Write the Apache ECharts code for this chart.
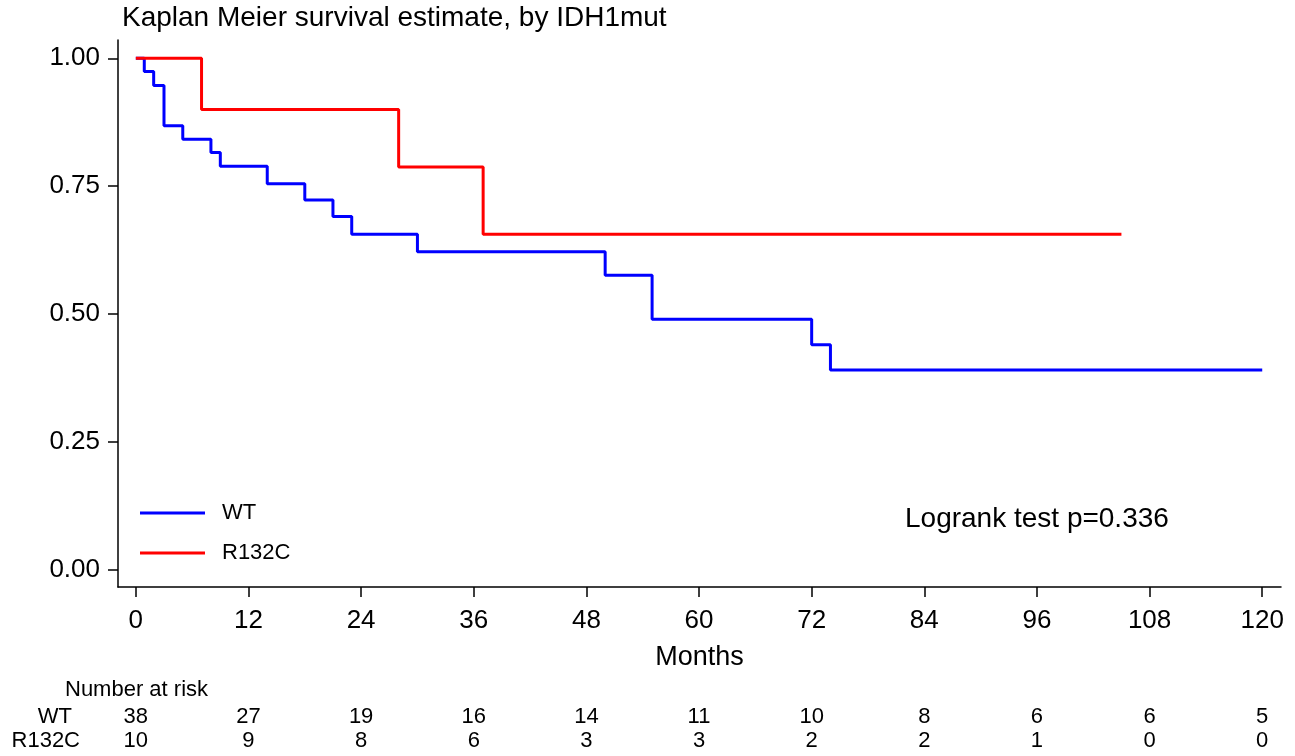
<!DOCTYPE html>
<html>
<head>
<meta charset="utf-8">
<script src="https://cdn.jsdelivr.net/npm/echarts@6/dist/echarts.min.js"></script>
<style>html,body{margin:0;padding:0;background:#fff;}#c{width:1295px;height:756px;}</style>
</head>
<body>
<div id="c"></div>
<script>
// ---- data ----
const wtTimes = [0, 0.9, 1.9, 3, 5, 8, 9, 14, 18, 21, 23, 30, 50, 55, 72, 74, 120];
const wtSurv  = [1, 0.974, 0.947, 0.868, 0.842, 0.816, 0.789, 0.755, 0.723, 0.691, 0.656, 0.622, 0.576, 0.490, 0.440, 0.391, 0.391];
const r132cTimes = [0, 7, 28, 37, 105];
const r132cSurv  = [1, 0.9, 0.7875, 0.656, 0.656];
const xTicks = [0, 12, 24, 36, 48, 60, 72, 84, 96, 108, 120];
const yTicks = [0, 0.25, 0.5, 0.75, 1];
const riskWT    = [38, 27, 19, 16, 14, 11, 10, 8, 6, 6, 5];
const riskR132C = [10, 9, 8, 6, 3, 3, 2, 2, 1, 0, 0];
const seriesNames = ['WT', 'R132C'];
const titleText = 'Kaplan Meier survival estimate, by IDH1mut';
const pText = 'Logrank test p=0.336';

const FONT = "'Liberation Sans', Arial, Helvetica, sans-serif";
const chart = echarts.init(document.getElementById('c'), null, {renderer: 'canvas'});

function riskAxis(name, values, offset, nameGap) {
  return {
    type: 'value', gridIndex: 0, position: 'bottom', offset: offset,
    min: -1.9, max: 122,
    axisLine: {show: false, onZero: false}, axisTick: {show: false}, splitLine: {show: false},
    axisLabel: {
      customValues: xTicks, margin: 0, verticalAlign: 'middle',
      fontFamily: FONT, fontSize: 22, color: '#000',
      formatter: v => { const i = xTicks.indexOf(Math.round(v)); return i >= 0 ? String(values[i]) : ''; }
    },
    name: name, nameLocation: 'start', nameGap: nameGap,
    nameTextStyle: {fontFamily: FONT, fontSize: 22, color: '#000', align: 'right', verticalAlign: 'middle'}
  };
}

chart.setOption({
  backgroundColor: '#fff',
  animation: false,
  title: {
    text: titleText, left: 122, top: 4, padding: 0,
    textStyle: {fontFamily: FONT, fontSize: 28, fontWeight: 'normal', color: '#000'}
  },
  grid: {left: 118, right: 14, top: 40, bottom: 169, containLabel: false},
  legend: {
    orient: 'vertical', left: 140, top: 502, padding: 0, itemWidth: 65, itemHeight: 3, itemGap: 18,
    icon: 'rect', data: seriesNames,
    textStyle: {fontFamily: FONT, fontSize: 22, color: '#000', padding: [0, 0, 0, 12], lineHeight: 22}
  },
  xAxis: [
    {
      type: 'value', min: -1.9, max: 122,
      axisLine: {show: true, onZero: false, lineStyle: {color: '#000', width: 1.5}},
      axisTick: {show: true, customValues: xTicks, length: 10, lineStyle: {color: '#000', width: 1.5}},
      axisLabel: {customValues: xTicks, margin: 21, fontFamily: FONT, fontSize: 26, color: '#000'},
      splitLine: {show: false},
      name: 'Months', nameLocation: 'middle', nameGap: 57,
      nameTextStyle: {fontFamily: FONT, fontSize: 27, color: '#000'}
    },
    riskAxis('WT', riskWT, 130, 46),
    riskAxis('R132C', riskR132C, 154, 38)
  ],
  yAxis: {
    type: 'value', min: -0.0332, max: 1.0358,
    axisLine: {show: true, onZero: false, lineStyle: {color: '#000', width: 1.5}},
    axisTick: {show: true, customValues: yTicks, length: 10, lineStyle: {color: '#000', width: 1.5}},
    axisLabel: {customValues: yTicks, margin: 18, fontFamily: FONT, fontSize: 26, color: '#000',
      formatter: v => v.toFixed(2)},
    splitLine: {show: false}
  },
  graphic: [
    {type: 'text', left: 65, top: 679,
      style: {text: 'Number at risk', fontFamily: FONT, fontSize: 22, fill: '#000'}},
    {type: 'text', left: 905, top: 505,
      style: {text: pText, fontFamily: FONT, fontSize: 28, fill: '#000'}}
  ],
  series: [
    {
      name: seriesNames[0], type: 'line', step: 'end', showSymbol: false, symbol: 'none',
      lineStyle: {color: '#0000ff', width: 3}, itemStyle: {color: '#0000ff'},
      data: wtTimes.map((t, i) => [t, wtSurv[i]])
    },
    {
      name: seriesNames[1], type: 'line', step: 'end', showSymbol: false, symbol: 'none',
      lineStyle: {color: '#ff0000', width: 3}, itemStyle: {color: '#ff0000'},
      data: r132cTimes.map((t, i) => [t, r132cSurv[i]])
    }
  ]
});
</script>
</body>
</html>
